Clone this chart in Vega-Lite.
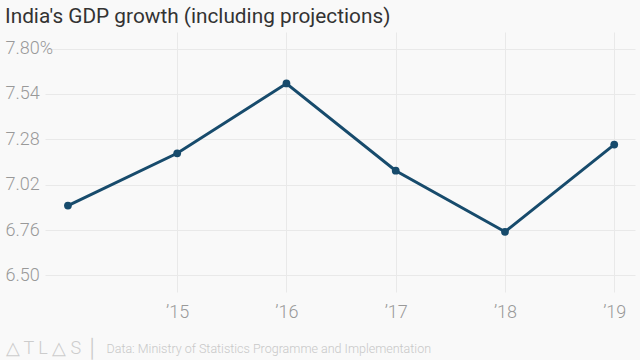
{
  "$schema": "https://vega.github.io/schema/vega-lite/v6.json",
  "width": 590,
  "height": 260,
  "autosize": "none",
  "padding": {"left": 45, "top": 32, "right": 5, "bottom": 68},
  "background": "#f9f9f9",
  "title": {
    "text": "India's GDP growth (including projections)",
    "anchor": "start",
    "frame": "group",
    "dx": -40,
    "dy": 21,
    "offset": 9,
    "baseline": "alphabetic",
    "font": "Roboto",
    "fontSize": 20.8,
    "fontWeight": 400,
    "color": "#333333"
  },
  "config": {
    "view": {"stroke": null},
    "axis": {"labelFont": "Roboto", "titleFont": "Roboto"}
  },
  "data": {
    "values": [
      {"year": 2014, "growth": 6.9},
      {"year": 2015, "growth": 7.2},
      {"year": 2016, "growth": 7.6},
      {"year": 2017, "growth": 7.1},
      {"year": 2018, "growth": 6.75},
      {"year": 2019, "growth": 7.25}
    ]
  },
  "encoding": {
    "x": {
      "field": "year",
      "type": "quantitative",
      "scale": {"domain": [2013.79, 2019.19], "nice": false, "zero": false},
      "axis": {
        "values": [2015, 2016, 2017, 2018, 2019],
        "grid": true,
        "gridColor": "#e9e9e9",
        "domain": false,
        "ticks": false,
        "labelExpr": "'’' + (datum.value - 2000)",
        "labelFontSize": 18,
        "labelFontWeight": 300,
        "labelColor": "#999999",
        "labelBaseline": "middle",
        "labelPadding": 20,
        "title": "Data: Ministry of Statistics Programme and Implementation",
        "titleFontSize": 12.5,
        "titleFontWeight": 300,
        "titleColor": "#c8c8c8",
        "titleAnchor": "start",
        "titleAlign": "left",
        "titleBaseline": "middle",
        "titleX": 61,
        "titleY": 56
      }
    },
    "y": {
      "field": "growth",
      "type": "quantitative",
      "scale": {"domain": [6.405, 7.895], "nice": false, "zero": false},
      "axis": {
        "values": [6.5, 6.76, 7.02, 7.28, 7.54, 7.8],
        "grid": true,
        "gridColor": "#e9e9e9",
        "domain": false,
        "ticks": false,
        "labelAlign": "left",
        "labelBaseline": "middle",
        "labelPadding": 40,
        "labelExpr": "datum.value > 7.79 ? '7.80%' : format(datum.value, '.2f')",
        "labelFontSize": 18,
        "labelFontWeight": 300,
        "labelColor": "#999999",
        "title": "△  T  L  △  S    │",
        "titleAngle": 0,
        "titleAlign": "left",
        "titleBaseline": "middle",
        "titleX": -40,
        "titleY": 316,
        "titleFontSize": 18,
        "titleFontWeight": 300,
        "titleColor": "#cccccc"
      }
    }
  },
  "layer": [
    {"mark": {"type": "line", "color": "#174b6c", "strokeWidth": 3}},
    {"mark": {"type": "point", "filled": true, "color": "#174b6c", "size": 60, "opacity": 1}}
  ]
}
